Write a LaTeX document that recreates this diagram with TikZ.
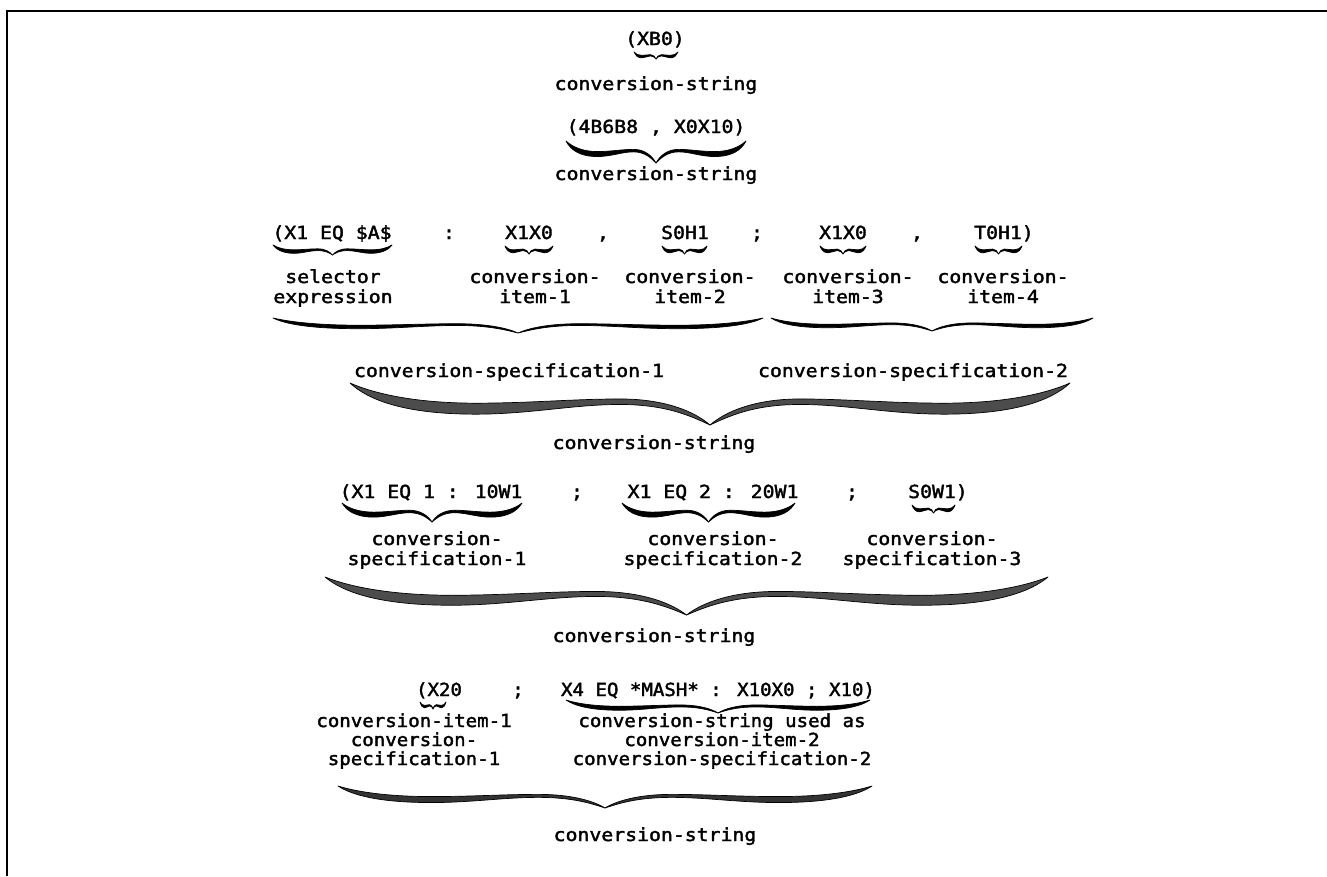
\documentclass[tikz,border=0pt]{standalone}
\usepackage{fontspec}
\newfontfamily\codefont[FakeStretch=1.1,FakeBold=2]{DejaVu Sans Mono}
\newfontfamily\narrowcodefont[FakeStretch=1.06,FakeBold=2]{DejaVu Sans Mono}

% Downward curly brace: [fill] {left x}{right x}{top y}{depth}{thickness}
\newcommand\curlybrace[6][black]{%
  \pgfmathsetmacro\cbm{(#2+#3)/2}%
  \pgfmathsetmacro\cbl{(#3-#2)/2}%
  \pgfmathsetmacro\cbt{#6/#5}%
  \pgfmathsetmacro\cbh{#4+#5}%
  \foreach \cbs in {1,-1}{%
    \filldraw[fill=#1, draw=black, line width=0.7pt, line join=round,
              shift={(\cbm,\cbh)}, xscale=\cbs*\cbl, yscale=#5]
      (1,-1) .. controls (0.92,-0.7) and (0.8,-0.52) .. (0.65,-0.52)
      .. controls (0.5,-0.52) and (0.38,-0.62) .. (0.25,-0.62)
      .. controls (0.12,-0.62) and (0.04,-0.3) .. (0,0)
      .. controls (0.05,-0.2) and (0.12,{-0.62+0.5*\cbt}) .. (0.25,{-0.62+0.5*\cbt})
      .. controls (0.38,{-0.62+0.5*\cbt}) and (0.5,{-0.52+\cbt}) .. (0.65,{-0.52+\cbt})
      .. controls (0.85,{-0.52+\cbt}) and (0.95,-0.6) .. (1,-1) -- cycle;
  }%
}

\begin{document}
\begin{tikzpicture}[x=1pt,y=-1pt,
  txt/.style={font=\codefont\fontsize{18}{20}\selectfont, inner sep=0pt, anchor=base, text=black},
  ntxt/.style={txt, font=\narrowcodefont\fontsize{18}{20}\selectfont},
]
\useasboundingbox (0,0) rectangle (1327,876);

% frame
\draw[line width=2.2pt] (7,876) -- (7,11) -- (1327,11);

% ---- example 1
\node[txt] (a1) at (655,45) {(XB0)};
\curlybrace{634}{678}{52}{7}{2.5}
\node[txt] (a2) at (656,90) {conversion-string};

% ---- example 2
\node[txt] (b1) at (656,133) {(4B6B8 , X0X10)};
\curlybrace{566}{746}{141}{22}{5}
\node[txt] (b2) at (656,180) {conversion-string};

% ---- example 3
\node[txt] (c1) at (332,239) {(X1 EQ \$A\$};
\node[txt] (c2) at (449,239) {:};
\node[txt] (c3) at (529,239) {X1X0};
\node[txt] (c4) at (603,239) {,};
\node[txt] (c5) at (685,239) {S0H1};
\node[txt] (c6) at (757,239) {;};
\node[txt] (c7) at (843,239) {X1X0};
\node[txt] (c8) at (917,239) {,};
\node[txt] (c9) at (1004,239) {T0H1)};

\curlybrace{273}{392}{245}{10}{3.5}
\curlybrace{505}{553}{246}{8}{3}
\curlybrace{662}{707}{246}{8}{3}
\curlybrace{820}{866}{246}{8}{3}
\curlybrace{975}{1022}{246}{8}{3}

\node[txt] (d1a) at (333,283) {selector};
\node[txt] (d1b) at (333,303) {expression};
\node[txt] (d2a) at (535,283) {conversion-};
\node[txt] (d2b) at (535,303) {item-1};
\node[txt] (d3a) at (690,283) {conversion-};
\node[txt] (d3b) at (690,303) {item-2};
\node[txt] (d4a) at (848,283) {conversion-};
\node[txt] (d4b) at (848,303) {item-3};
\node[txt] (d5a) at (1003,283) {conversion-};
\node[txt] (d5b) at (1003,303) {item-4};

\curlybrace{273}{763}{318}{15}{3.5}
\curlybrace{771}{1093}{318}{13}{3.5}

\node[txt] (e1) at (509,377) {conversion-specification-1};
\node[txt] (e2) at (913,377) {conversion-specification-2};

\curlybrace[black!70]{350}{1070}{383}{42}{11}
\node[txt] (e3) at (654,449) {conversion-string};

% ---- example 4
\node[txt] (f1) at (431,498) {(X1 EQ 1 : 10W1};
\node[txt] (f2) at (577,498) {;};
\node[txt] (f3) at (713,498) {X1 EQ 2 : 20W1};
\node[txt] (f4) at (852,498) {;};
\node[txt] (f5) at (938,498) {S0W1)};

\curlybrace{342}{522}{503}{19}{5}
\curlybrace{622}{795}{503}{19}{5}
\curlybrace{912}{955}{505}{8}{3}

\node[txt] (g1a) at (437,545) {conversion-};
\node[txt] (g1b) at (437,565) {specification-1};
\node[txt] (g2a) at (713,545) {conversion-};
\node[txt] (g2b) at (713,565) {specification-2};
\node[txt] (g3a) at (932,545) {conversion-};
\node[txt] (g3b) at (932,565) {specification-3};

\curlybrace[black!70]{325}{1048}{577}{38}{10}
\node[txt] (g4) at (654,642) {conversion-string};

% ---- example 5
\node[ntxt] (h1) at (439,696) {(X20};
\node[ntxt] (h2) at (518,696) {;};
\node[ntxt] (h3) at (718,696) {X4 EQ *MASH* : X10X0 ; X10)};

\curlybrace{420}{446}{702}{7}{2.5}
\curlybrace{566}{870}{700}{13}{4}

\node[ntxt] (i1a) at (414,727) {conversion-item-1};
\node[ntxt] (i1b) at (414,746) {conversion-};
\node[ntxt] (i1c) at (414,765) {specification-1};
\node[ntxt] (i2a) at (722,727) {conversion-string used as};
\node[ntxt] (i2b) at (722,746) {conversion-item-2};
\node[ntxt] (i2c) at (722,765) {conversion-specification-2};

\curlybrace[black!80]{338}{872}{786}{22}{6}
\node[txt] (i3) at (655,841) {conversion-string};

\end{tikzpicture}
\end{document}
